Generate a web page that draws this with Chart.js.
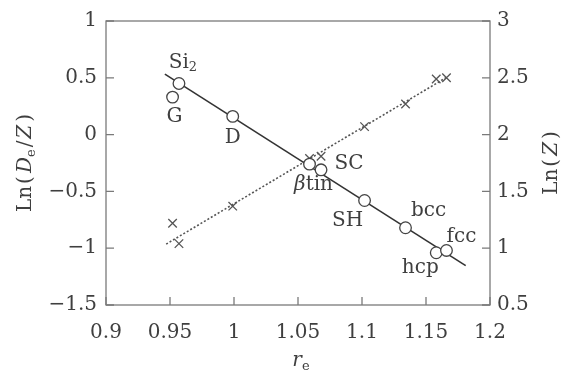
<!DOCTYPE html>
<html>
<head>
<meta charset="utf-8">
<script src="https://cdn.jsdelivr.net/npm/chart.js@4/dist/chart.umd.min.js"></script>
<style>
html,body{margin:0;padding:0;background:#fff;}
#wrap{width:566px;height:372px;}
</style>
</head>
<body>
<div id="wrap"><canvas id="c" width="566" height="372"></canvas></div>
<script>
// ---- data ----
const phaseNames = ['Si2', 'G', 'D', 'βtin', 'SC', 'SH', 'bcc', 'hcp', 'fcc'];
const phaseRe    = [0.957, 0.952, 0.999, 1.059, 1.068, 1.102, 1.134, 1.158, 1.166];
const lnDeOverZ  = [0.45, 0.33, 0.16, -0.26, -0.31, -0.58, -0.82, -1.04, -1.02];
const lnZ        = [1.04, 1.22, 1.37, 1.79, 1.81, 2.07, 2.27, 2.49, 2.50];
const fitDeX = [0.946, 1.181];
const fitDeY = [0.533, -1.154];
const fitZX  = [0.947, 1.167];
const fitZY  = [1.036, 2.51];
const xTickLabels  = ['0.9', '0.95', '1', '1.05', '1.1', '1.15', '1.2'];
const yLTickLabels = ['−1.5', '−1', '−0.5', '0', '0.5', '1'];
const yRTickLabels = ['0.5', '1', '1.5', '2', '2.5', '3'];

// ---- style ----
const FONT = '"DejaVu Serif", "Liberation Serif", serif';
const TXT = '#3f3f3f';
const FRAME = '#7a7a7a';
// label offsets in pixels from each circle
const labelOffsets = {
  'Si2': [4, -21], 'G': [2, 20], 'D': [0, 21], 'βtin': [4, 21], 'SC': [28, -6],
  'SH': [-17, 20], 'bcc': [23, -17], 'hcp': [-16, 15], 'fcc': [15, -14]
};
const labelRich = {
  'Si2': [{t:'Si'}, {t:'2', sub:true}],
  'βtin': [{t:'β', it:true}, {t:'tin'}]
};

function drawRich(ctx, segs, cx, cy, size, align) {
  const fontFor = s => (s.it ? 'italic ' : '') + (s.sub ? Math.round(size*0.65) : size) + 'px ' + FONT;
  let w = 0;
  segs.forEach(s => { ctx.font = fontFor(s); w += ctx.measureText(s.t).width + (s.gap||0); });
  let x = align === 'center' ? cx - w/2 : cx;
  ctx.textBaseline = 'middle';
  ctx.textAlign = 'left';
  segs.forEach(s => {
    ctx.font = fontFor(s);
    ctx.fillText(s.t, x, cy + (s.sub ? size*0.28 : 0));
    x += ctx.measureText(s.t).width + (s.gap||0);
  });
}

const decorPlugin = {
  id: 'decor',
  afterDraw(chart) {
    const ctx = chart.ctx;
    const a = chart.chartArea;
    const sx = chart.scales.x, sy = chart.scales.y, sy2 = chart.scales.y2;
    ctx.save();
    ctx.strokeStyle = FRAME;
    ctx.lineWidth = 1.3;
    ctx.strokeRect(a.left, a.top, a.right - a.left, a.bottom - a.top);
    const TL = 8;
    ctx.beginPath();
    sx.ticks.forEach(t => {
      const px = sx.getPixelForValue(t.value);
      ctx.moveTo(px, a.bottom); ctx.lineTo(px, a.bottom - TL);
    });
    sy.ticks.forEach(t => {
      const py = sy.getPixelForValue(t.value);
      ctx.moveTo(a.left, py); ctx.lineTo(a.left + TL, py);
    });
    sy2.ticks.forEach(t => {
      const py = sy2.getPixelForValue(t.value);
      ctx.moveTo(a.right, py); ctx.lineTo(a.right - TL, py);
    });
    ctx.stroke();

    // point labels
    ctx.fillStyle = TXT;
    phaseNames.forEach((n, i) => {
      const px = sx.getPixelForValue(phaseRe[i]);
      const py = sy.getPixelForValue(lnDeOverZ[i]);
      const off = labelOffsets[n];
      drawRich(ctx, labelRich[n] || [{t:n}], px + off[0], py + off[1], 20, 'center');
    });

    // axis titles
    const midY = (a.top + a.bottom) / 2;
    ctx.save();
    ctx.translate(26, midY);
    ctx.rotate(-Math.PI/2);
    drawRich(ctx, [{t:'Ln', gap:2}, {t:'(', gap:3}, {t:'D', it:true}, {t:'e', sub:true, gap:2}, {t:'/', gap:2}, {t:'Z', it:true, gap:3}, {t:')'}], 0, 0, 20, 'center');
    ctx.restore();
    ctx.save();
    ctx.translate(552, midY);
    ctx.rotate(-Math.PI/2);
    drawRich(ctx, [{t:'Ln', gap:2}, {t:'(', gap:3}, {t:'Z', it:true, gap:3}, {t:')'}], 0, 0, 20, 'center');
    ctx.restore();
    drawRich(ctx, [{t:'r', it:true}, {t:'e', sub:true}], (a.left + a.right)/2 + 3, 361, 20, 'center');
    ctx.restore();
  }
};

const circlePts = phaseRe.map((x, i) => ({x, y: lnDeOverZ[i]}));
const crossPts = phaseRe.map((x, i) => ({x, y: lnZ[i]}));
const fitDe = fitDeX.map((x, i) => ({x, y: fitDeY[i]}));
const fitZ = fitZX.map((x, i) => ({x, y: fitZY[i]}));

new Chart(document.getElementById('c'), {
  type: 'scatter',
  data: {
    datasets: [
      { data: fitDe, showLine: true, yAxisID: 'y', borderColor: '#333', borderWidth: 1.6, pointRadius: 0, order: 3 },
      { data: fitZ, showLine: true, yAxisID: 'y2', borderColor: '#555', borderWidth: 1.6, borderDash: [2, 2], pointRadius: 0, order: 3 },
      { data: crossPts, yAxisID: 'y2', pointStyle: 'crossRot', pointRadius: 6, borderColor: '#555', borderWidth: 1.3, order: 2 },
      { data: circlePts, yAxisID: 'y', pointStyle: 'circle', pointRadius: 5.8, backgroundColor: '#fff', borderColor: '#444', borderWidth: 1.3, order: 1 }
    ]
  },
  options: {
    responsive: false,
    animation: false,
    devicePixelRatio: 1,
    layout: { padding: { top: 16, left: 0, right: 0, bottom: 0 } },
    plugins: { legend: { display: false }, tooltip: { enabled: false } },
    scales: {
      x: {
        type: 'linear', position: 'bottom', min: 0.9, max: 1.2,
        afterFit: s => { s.height = 67; },
        grid: { display: false, drawTicks: false },
        border: { display: false },
        ticks: { stepSize: 0.05, padding: 16, color: TXT, font: { family: FONT, size: 20 },
                 callback: (v, i) => xTickLabels[i] }
      },
      y: {
        type: 'linear', position: 'left', min: -1.5, max: 1,
        afterFit: s => { s.width = 106; },
        grid: { display: false, drawTicks: false },
        border: { display: false },
        ticks: { stepSize: 0.5, padding: 9, color: TXT, font: { family: FONT, size: 20 },
                 callback: (v, i) => yLTickLabels[i] }
      },
      y2: {
        type: 'linear', position: 'right', min: 0.5, max: 3,
        afterFit: s => { s.width = 76; },
        grid: { display: false, drawTicks: false },
        border: { display: false },
        ticks: { stepSize: 0.5, padding: 7, color: TXT, font: { family: FONT, size: 20 },
                 callback: (v, i) => yRTickLabels[i] }
      }
    }
  },
  plugins: [decorPlugin]
});
</script>
</body>
</html>
